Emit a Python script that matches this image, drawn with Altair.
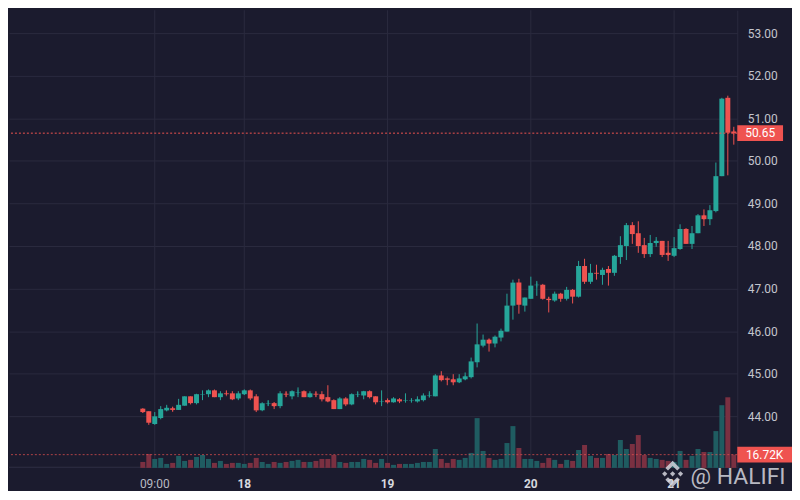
import altair as alt
import pandas as pd

# ---- data ----
hours = list(range(-17, 83))  # hourly candles, hours since day "18" 00:00

opens = [
    44.18, 44.12, 43.82, 43.96, 44.14, 44.19, 44.15, 44.25, 44.47, 44.31,
    44.51, 44.52, 44.61, 44.45, 44.54, 44.54, 44.42, 44.52, 44.61, 44.47,
    44.14, 44.30, 44.31, 44.24, 44.53, 44.47, 44.56, 44.59, 44.45, 44.53,
    44.52, 44.45, 44.38, 44.17, 44.42, 44.28, 44.51, 44.49, 44.59, 44.47,
    44.35, 44.38, 44.33, 44.40, 44.37, 44.37, 44.35, 44.38, 44.49, 44.47,
    44.96, 44.89, 44.87, 44.80, 44.87, 44.92, 45.27, 45.66, 45.80, 45.71,
    45.85, 45.99, 46.60, 47.14, 46.60, 46.76, 47.08, 47.09, 46.76, 46.72,
    46.88, 46.76, 46.97, 46.81, 47.53, 47.16, 47.37, 47.32, 47.46, 47.37,
    47.74, 48.00, 48.49, 48.30, 48.02, 47.81, 48.07, 48.12, 47.84, 47.77,
    47.93, 48.40, 48.05, 48.30, 48.72, 48.63, 48.82, 49.64, 51.48, 50.69,
]
closes = [
    44.10, 43.85, 44.00, 44.17, 44.20, 44.15, 44.27, 44.47, 44.31, 44.52,
    44.52, 44.61, 44.45, 44.54, 44.52, 44.40, 44.54, 44.61, 44.42, 44.14,
    44.31, 44.31, 44.24, 44.54, 44.51, 44.59, 44.57, 44.45, 44.54, 44.51,
    44.40, 44.35, 44.17, 44.42, 44.28, 44.52, 44.52, 44.59, 44.45, 44.33,
    44.36, 44.33, 44.42, 44.35, 44.38, 44.38, 44.40, 44.49, 44.50, 44.96,
    44.85, 44.86, 44.80, 44.89, 44.94, 45.29, 45.69, 45.80, 45.71, 45.87,
    46.01, 46.60, 47.14, 46.62, 46.79, 47.07, 47.09, 46.76, 46.73, 46.88,
    46.76, 46.97, 46.81, 47.53, 47.16, 47.37, 47.35, 47.44, 47.37, 47.77,
    48.02, 48.49, 48.28, 48.00, 47.81, 48.07, 48.12, 47.79, 47.79, 47.95,
    48.40, 48.05, 48.30, 48.72, 48.63, 48.84, 49.64, 51.46, 50.66, 50.65,
]
highs = [
    44.18, 44.12, 44.10, 44.24, 44.27, 44.22, 44.41, 44.47, 44.47, 44.53,
    44.61, 44.63, 44.63, 44.59, 44.61, 44.59, 44.59, 44.63, 44.63, 44.52,
    44.33, 44.38, 44.33, 44.59, 44.59, 44.61, 44.68, 44.61, 44.59, 44.59,
    44.59, 44.73, 44.40, 44.45, 44.45, 44.54, 44.59, 44.59, 44.61, 44.47,
    44.61, 44.42, 44.45, 44.42, 44.54, 44.42, 44.47, 44.54, 44.59, 44.99,
    45.06, 44.89, 44.99, 44.99, 45.03, 45.38, 46.18, 45.92, 45.83, 45.90,
    46.06, 46.88, 47.21, 47.23, 46.79, 47.28, 47.18, 47.11, 46.81, 46.93,
    46.90, 47.04, 46.99, 47.65, 47.70, 47.58, 47.56, 47.49, 47.53, 47.79,
    48.23, 48.54, 48.56, 48.58, 48.19, 48.26, 48.21, 48.12, 48.12, 48.21,
    48.51, 48.42, 48.47, 48.75, 48.86, 48.96, 49.96, 51.48, 51.53, 50.80,
]
lows = [
    44.08, 43.80, 43.80, 43.93, 44.13, 44.11, 44.15, 44.25, 44.28, 44.28,
    44.38, 44.45, 44.45, 44.38, 44.50, 44.38, 44.38, 44.50, 44.38, 44.10,
    44.12, 44.24, 44.17, 44.19, 44.45, 44.40, 44.45, 44.45, 44.45, 44.45,
    44.35, 44.33, 44.17, 44.17, 44.24, 44.26, 44.45, 44.40, 44.42, 44.28,
    44.24, 44.31, 44.33, 44.31, 44.33, 44.33, 44.35, 44.35, 44.45, 44.47,
    44.82, 44.73, 44.73, 44.78, 44.85, 44.89, 45.15, 45.62, 45.52, 45.62,
    45.76, 45.99, 46.27, 46.41, 46.46, 46.76, 46.83, 46.74, 46.44, 46.69,
    46.69, 46.72, 46.65, 46.79, 47.11, 47.11, 47.21, 47.09, 47.07, 47.30,
    47.58, 47.67, 48.05, 47.84, 47.72, 47.74, 47.98, 47.74, 47.65, 47.74,
    47.91, 48.05, 47.93, 48.30, 48.47, 48.49, 48.79, 49.64, 49.66, 50.38,
]
volumes = [  # thousands
    7.5, 17.6, 11.3, 12.6, 5.0, 6.3, 15.1, 8.8, 10.1, 13.8,
    16.3, 11.3, 6.3, 8.8, 5.0, 6.3, 6.3, 5.0, 6.3, 12.6,
    7.5, 5.0, 7.5, 6.3, 7.5, 8.8, 10.1, 7.5, 7.5, 8.8,
    11.3, 11.3, 16.3, 7.5, 6.3, 7.5, 7.5, 11.3, 10.1, 6.3,
    11.3, 6.3, 3.8, 5.0, 5.0, 5.0, 6.3, 7.5, 7.5, 23.9,
    11.3, 6.3, 11.3, 10.1, 12.6, 18.9, 62.9, 21.4, 12.6, 10.1,
    11.3, 31.4, 52.8, 25.1, 11.3, 11.3, 8.8, 6.3, 12.6, 10.1,
    5.0, 10.1, 8.8, 22.6, 28.9, 15.1, 12.6, 12.6, 17.6, 16.3,
    35.2, 23.9, 30.2, 41.5, 16.3, 12.6, 11.3, 10.1, 8.8, 7.5,
    21.4, 10.1, 15.1, 23.9, 20.1, 20.1, 46.5, 79.2, 89.2, 16.72,
]
time_tick_hours = [-15, 0, 24, 48, 72]
time_tick_labels = ["09:00", "18", "19", "20", "21"]
time_tick_is_day = [False, True, True, True, True]
price_ticks = [44, 45, 46, 47, 48, 49, 50, 51, 52, 53]
watermark = "@ HALIFI"

# ---- styling ----
BG = "#1b1b2e"
GRID = "#2a2a3e"
TXT = "#b8bac3"
TXT_DAY = "#d6d8de"
UP = "#26a69a"
DOWN = "#ef5350"
UP_VOL = "#1f5c61"
DOWN_VOL = "#7a3041"
FONT = "Roboto"

W, H = 732, 460
x_dom = [-39.41667, 82.58333]
p_dom = [53.537 - H / 42.8, 53.537]
v_dom = [0, H * 1.257]

df = pd.DataFrame({"t": hours, "open": opens, "high": highs, "low": lows,
                   "close": closes, "volume": volumes})
ticks = pd.DataFrame({"t": time_tick_hours, "label": time_tick_labels,
                      "day": time_tick_is_day})

xs = alt.Scale(domain=x_dom, nice=False, zero=False, padding=0)
ps = alt.Scale(domain=p_dom, nice=False, zero=False, padding=0)
vs = alt.Scale(domain=v_dom, nice=False, zero=False, padding=0)

y_axis = alt.Axis(orient="right", values=price_ticks, format=".2f", title=None,
                  grid=True, gridColor=GRID, ticks=False, domain=True,
                  domainColor=GRID, labelColor="#c3c5cd", labelFontSize=12,
                  labelFont=FONT, labelPadding=10)

up_cond = "datum.close >= datum.open"
base = alt.Chart(df)
X = alt.X("t:Q", scale=xs, axis=None, title=None)

# time grid and labels
vgrid = alt.Chart(ticks).mark_rule(color=GRID, strokeWidth=1).encode(x=X)
bottom_line = alt.Chart(ticks).mark_rule(color=GRID, strokeWidth=1).encode(
    x=alt.value(0), x2=alt.value(W), y=alt.value(H - 0.5))
time_lbl = alt.Chart(ticks).transform_filter("!datum.day").mark_text(
    fontSize=12, font=FONT, color=TXT, baseline="middle").encode(
    x=X, y=alt.value(H + 16), text="label:N")
day_lbl = alt.Chart(ticks).transform_filter("datum.day").mark_text(
    fontSize=12, font=FONT, color=TXT_DAY, fontWeight="bold", baseline="middle").encode(
    x=X, y=alt.value(H + 16), text="label:N")

vol_bars = base.mark_bar(width=5).encode(
    x=X,
    y=alt.Y("volume:Q", scale=vs, axis=None, title=None),
    color=alt.condition(up_cond, alt.value(UP_VOL), alt.value(DOWN_VOL)),
)
last = pd.DataFrame({"price": [closes[-1]], "vol": [volumes[-1]],
                     "ptxt": [f"{closes[-1]:.2f}"], "vtxt": [f"{volumes[-1]:.2f}K"]})
vol_line = alt.Chart(last).mark_rule(color=DOWN, strokeDash=[2, 2], opacity=0.7, strokeWidth=1).encode(
    y=alt.Y("vol:Q", scale=vs, axis=None, title=None))
box_v_path = "M-1,-0.2909L1,-0.2909L1,0.2909L-1,0.2909Z"
vol_box = alt.Chart(last).mark_point(shape=box_v_path, filled=True, size=55 ** 2,
                                     color=DOWN, opacity=1).encode(
    x=alt.value(759.5), y=alt.Y("vol:Q", scale=vs, axis=None, title=None))
vol_text = alt.Chart(last).mark_text(color="#ffffff", fontSize=12, font=FONT).encode(
    x=alt.value(759.5), y=alt.Y("vol:Q", scale=vs, axis=None, title=None), text="vtxt:N")
vol_layer = alt.layer(vol_bars, vol_line, vol_box, vol_text)

wicks = base.mark_rule(strokeWidth=1).encode(
    x=X,
    y=alt.Y("low:Q", scale=ps, axis=y_axis, title=None),
    y2="high:Q",
    color=alt.condition(up_cond, alt.value(UP), alt.value(DOWN)),
)
bodies = base.mark_bar(width=5).encode(
    x=X,
    y=alt.Y("open:Q", scale=ps, title=None),
    y2="close:Q",
    color=alt.condition(up_cond, alt.value(UP), alt.value(DOWN)),
)
mids = base.transform_calculate(mid="(datum.open + datum.close) / 2").mark_tick(
    thickness=1, size=5).encode(
    x=X,
    y=alt.Y("mid:Q", scale=ps, title=None),
    color=alt.condition(up_cond, alt.value(UP), alt.value(DOWN)),
)
price_line = alt.Chart(last).mark_rule(color=DOWN, strokeDash=[2, 2], strokeWidth=1).encode(
    y=alt.Y("price:Q", scale=ps, title=None))
box_p_path = "M-1,-0.3478L1,-0.3478L1,0.3478L-1,0.3478Z"
price_box = alt.Chart(last).mark_point(shape=box_p_path, filled=True, size=46 ** 2,
                                       color=DOWN, opacity=1).encode(
    x=alt.value(755), y=alt.Y("price:Q", scale=ps, title=None))
price_text = alt.Chart(last).mark_text(color="#ffffff", fontSize=12, font=FONT).encode(
    x=alt.value(755), y=alt.Y("price:Q", scale=ps, title=None), text="ptxt:N")
price_layer = alt.layer(wicks, bodies, mids, price_line, price_box, price_text)

wm = pd.DataFrame({"label": [watermark]})
logo_path = ("M0,-1L0.55,-0.45L0.35,-0.25L0,-0.6L-0.35,-0.25L-0.55,-0.45Z"
             "M0,1L0.55,0.45L0.35,0.25L0,0.6L-0.35,0.25L-0.55,0.45Z"
             "M0,-0.2L0.2,0L0,0.2L-0.2,0Z"
             "M-0.6,-0.2L-0.4,0L-0.6,0.2L-0.8,0Z"
             "M0.6,-0.2L0.8,0L0.6,0.2L0.4,0Z")
logo = alt.Chart(wm).mark_point(shape=logo_path, filled=True, size=700,
                                color="#d4d4dc", opacity=0.85).encode(
    x=alt.value(667), y=alt.value(466))
wm_text = alt.Chart(wm).mark_text(align="left", baseline="middle", fontSize=23,
                                  font=FONT, color="#d4d4dc", opacity=0.85).encode(
    x=alt.value(685), y=alt.value(469), text="label:N")

guides = alt.layer(vgrid, bottom_line, time_lbl, day_lbl)

chart = alt.layer(guides, vol_layer, price_layer, logo, wm_text).resolve_scale(
    y="independent").properties(
    width=W, height=H, padding=0, background=BG
).configure_view(strokeWidth=0)

chart.save("out.html", embed_options={"renderer": "svg", "actions": False})
